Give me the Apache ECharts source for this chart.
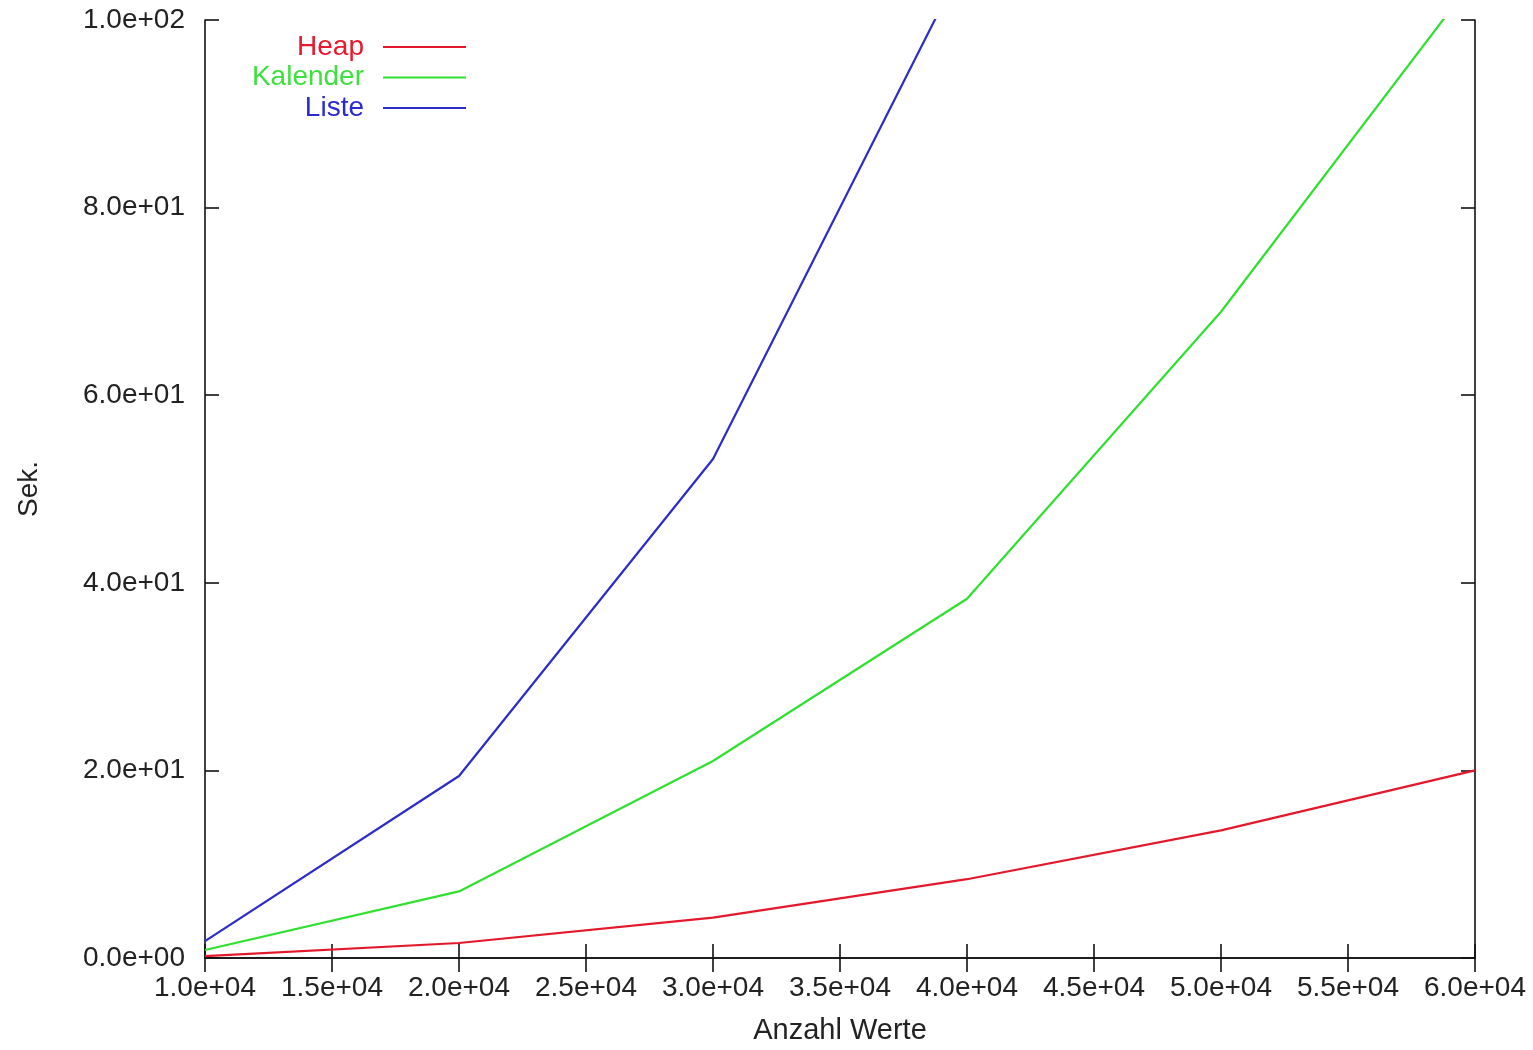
<!DOCTYPE html>
<html>
<head>
<meta charset="utf-8">
<script src="https://cdn.jsdelivr.net/npm/echarts@6/dist/echarts.min.js"></script>
<style>
  html, body { margin: 0; padding: 0; background: #fff; }
  #chart { width: 1533px; height: 1050px; }
</style>
</head>
<body>
<div id="chart"></div>
<script>
// Number of values sorted (x) and runtime in seconds (y) per implementation
const anzahl   = [10000, 20000, 30000, 40000, 50000, 60000];
const heap     = [0.2, 1.6, 4.3, 8.4, 13.6, 20.0];
const kalender = [0.85, 7.1, 21.0, 38.3, 68.9, 104.5];
const liste    = [1.8, 19.4, 53.2, 106.8];

const seriesNames  = ['Heap', 'Kalender', 'Liste'];
const seriesColors = ['#e3182b', '#2fe02f', '#2c2cc8'];
const textColors   = ['#e8182e', '#3ee03e', '#2a2ad0'];

const FONT = '"Liberation Sans", Arial, sans-serif';

// gnuplot-like exponent labels, e.g. 1.0e+04
function expLabel(v) {
  const s = Number(v).toExponential(1);
  const m = s.match(/^(-?[\d.]+)e([+-])(\d+)$/);
  if (!m) return s;
  return m[1] + 'e' + m[2] + (m[3].length < 2 ? '0' + m[3] : m[3]);
}

function pairs(xs, ys) { return ys.map((y, i) => [xs[i], y]); }

const chart = echarts.init(document.getElementById('chart'), null, { renderer: 'canvas' });

const axisLine = { show: true, lineStyle: { color: '#111', width: 1.6 } };
const tick = { show: true, inside: true, length: 14, lineStyle: { color: '#111', width: 1.6 } };

const legends = seriesNames.map((name, i) => ({
  data: [name],
  orient: 'vertical',
  align: 'right',
  right: 1067,
  top: 33 + i * 30.5,
  icon: 'rect',
  itemWidth: 83,
  itemHeight: 2,
  padding: 0,
  selectedMode: false,
  textStyle: {
    color: textColors[i],
    fontFamily: FONT,
    fontSize: 28,
    padding: [0, 14, 0, 0]
  }
}));

const option = {
  backgroundColor: '#ffffff',
  animation: false,
  grid: { left: 205, top: 20, right: 58, bottom: 87, containLabel: false },
  legend: legends,
  xAxis: [
    {
      type: 'value',
      min: 10000, max: 60000, interval: 5000,
      name: 'Anzahl Werte',
      nameLocation: 'middle',
      nameGap: 58,
      nameTextStyle: { color: '#222', fontFamily: FONT, fontSize: 29 },
      axisLine: axisLine,
      axisTick: tick,
      splitLine: { show: false },
      axisLabel: {
        color: '#222', fontFamily: FONT, fontSize: 28, margin: 16,
        formatter: expLabel
      }
    },
    {
      type: 'value', position: 'top',
      min: 10000, max: 60000, interval: 5000,
      axisLine: axisLine, axisTick: tick,
      axisLabel: { show: false }, splitLine: { show: false }
    }
  ],
  yAxis: [
    {
      type: 'value',
      min: 0, max: 100, interval: 20,
      name: 'Sek.',
      nameLocation: 'middle',
      nameGap: 162,
      nameRotate: 90,
      nameTextStyle: { color: '#222', fontFamily: FONT, fontSize: 28 },
      axisLine: axisLine,
      axisTick: tick,
      splitLine: { show: false },
      axisLabel: {
        color: '#222', fontFamily: FONT, fontSize: 28, margin: 20,
        formatter: expLabel
      }
    },
    {
      type: 'value', position: 'right',
      min: 0, max: 100, interval: 20,
      axisLine: axisLine, axisTick: tick,
      axisLabel: { show: false }, splitLine: { show: false }
    }
  ],
  series: [
    { name: 'Heap', data: pairs(anzahl, heap) },
    { name: 'Kalender', data: pairs(anzahl, kalender) },
    { name: 'Liste', data: pairs(anzahl, liste) }
  ].map((s, i) => ({
    name: s.name,
    type: 'line',
    data: s.data,
    symbol: 'none',
    clip: true,
    color: seriesColors[i],
    lineStyle: { color: seriesColors[i], width: 2.2 },
    z: 3 - i
  }))
};

chart.setOption(option);
</script>
</body>
</html>
